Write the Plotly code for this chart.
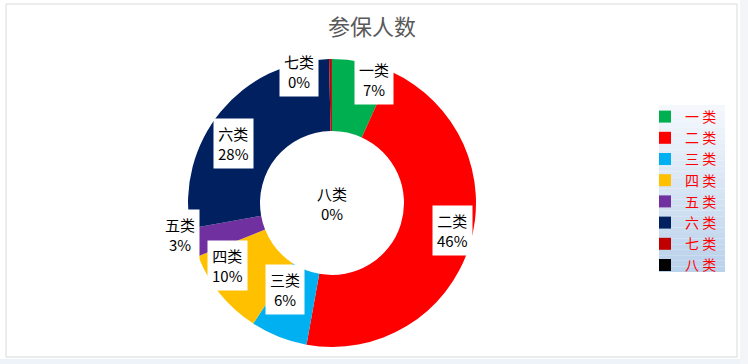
import numpy as np
import plotly.graph_objects as go

# ---- data ----
categories = ["一类", "二类", "三类", "四类", "五类", "六类", "七类", "八类"]
legend_names = ["一 类", "二 类", "三 类", "四 类", "五 类", "六 类", "七 类", "八 类"]
values = [6.8, 46.2, 6.4, 9.8, 3.2, 27.6, 0.3, 0.02]
title_text = "参保人数"

# ---- style ----
colors = ["#00B050", "#FF0000", "#00B0F0", "#FFC000", "#7030A0", "#002060", "#C00000", "#000000"]
label_radius = [1.03, 0.75, 0.75, 0.80, 0.94, 0.76, 1.08, 0.0]
label_angle_shift = [2, 0, 0, 0, 0, 0, -10, 0]
label_sx, label_sy = 168 / 144, 124 / 144

W, H = 748, 364
cx, cy, R = 332, 203, 144
FONT = "Noto Sans CJK SC"

fig = go.Figure(go.Pie(
    labels=legend_names, values=values, sort=False, direction="clockwise", rotation=0,
    hole=0.5, marker=dict(colors=colors, line=dict(width=0)), textinfo="none",
    domain=dict(x=[(cx - R) / W, (cx + R) / W], y=[(H - cy - R) / H, (H - cy + R) / H]),
))

# data labels (positions derived from slice mid-angles)
vals = np.array(values, dtype=float)
frac = vals / vals.sum()
start = np.cumsum(frac) - frac
mid = np.deg2rad((start + frac / 2) * 360 + np.array(label_angle_shift))
annotations = []
for i, name in enumerate(categories):
    r = label_radius[i] * R
    xp = cx + r * label_sx * np.sin(mid[i])
    yp = cy - r * label_sy * np.cos(mid[i])
    pct = f"{frac[i]*100:.0f}%"
    annotations.append(dict(
        x=xp / W, y=1 - yp / H, xref="paper", yref="paper", showarrow=False,
        xanchor="center", yanchor="middle",
        text=f"{name}<br>{pct}", font=dict(family=FONT, size=15, color="#000000"),
        bgcolor="#FFFFFF" if i < len(categories) - 1 else "rgba(0,0,0,0)",
        borderpad=4, align="center",
    ))

shapes = []
# outer strips
shapes.append(dict(type="rect", xref="paper", yref="paper", x0=0, x1=1, y0=0, y1=1 - 359 / H,
                   fillcolor="#EEF3FA", line=dict(width=0), layer="below"))
shapes.append(dict(type="rect", xref="paper", yref="paper", x0=740 / W, x1=1, y0=0, y1=1,
                   fillcolor="#F3F5F9", line=dict(width=0), layer="below"))
# chart border
shapes.append(dict(type="rect", xref="paper", yref="paper", x0=6 / W, x1=737 / W,
                   y0=1 - 357 / H, y1=1 - 4 / H, fillcolor="#FFFFFF",
                   line=dict(color="#D9D9D9", width=1), layer="below"))
# legend gradient background
lx0, lx1, ly0, ly1 = 659, 725, 105, 272
n = 30
c0 = np.array([0xF4, 0xF8, 0xFD])
c1 = np.array([0xBA, 0xD2, 0xEB])
for k in range(n):
    t = k / (n - 1)
    c = (c0 * (1 - t) + c1 * t).astype(int)
    ya = ly0 + (ly1 - ly0) * k / n
    yb = ly0 + (ly1 - ly0) * (k + 1) / n
    shapes.append(dict(type="rect", xref="paper", yref="paper", x0=lx0 / W, x1=lx1 / W,
                       y0=1 - yb / H, y1=1 - ya / H,
                       fillcolor=f"rgb({c[0]},{c[1]},{c[2]})", line=dict(width=0), layer="below"))

fig.update_layout(
    width=W, height=H, margin=dict(l=0, r=0, t=0, b=0),
    paper_bgcolor="#FFFFFF", plot_bgcolor="#FFFFFF",
    title=dict(text=title_text, x=372 / W, y=1 - 27 / H, xanchor="center", yanchor="middle",
               font=dict(family=FONT, size=22, color="#595959")),
    legend=dict(x=645 / W, y=1 - 101 / H, xanchor="left", yanchor="top",
                bgcolor="rgba(0,0,0,0)", font=dict(family=FONT, size=14, color="#FF0000"),
                traceorder="normal"),
    annotations=annotations, shapes=shapes, showlegend=True,
)

fig.write_html("out.html", config={"displayModeBar": False},
               post_script="document.body.style.margin='0';document.body.style.overflow='hidden';")
